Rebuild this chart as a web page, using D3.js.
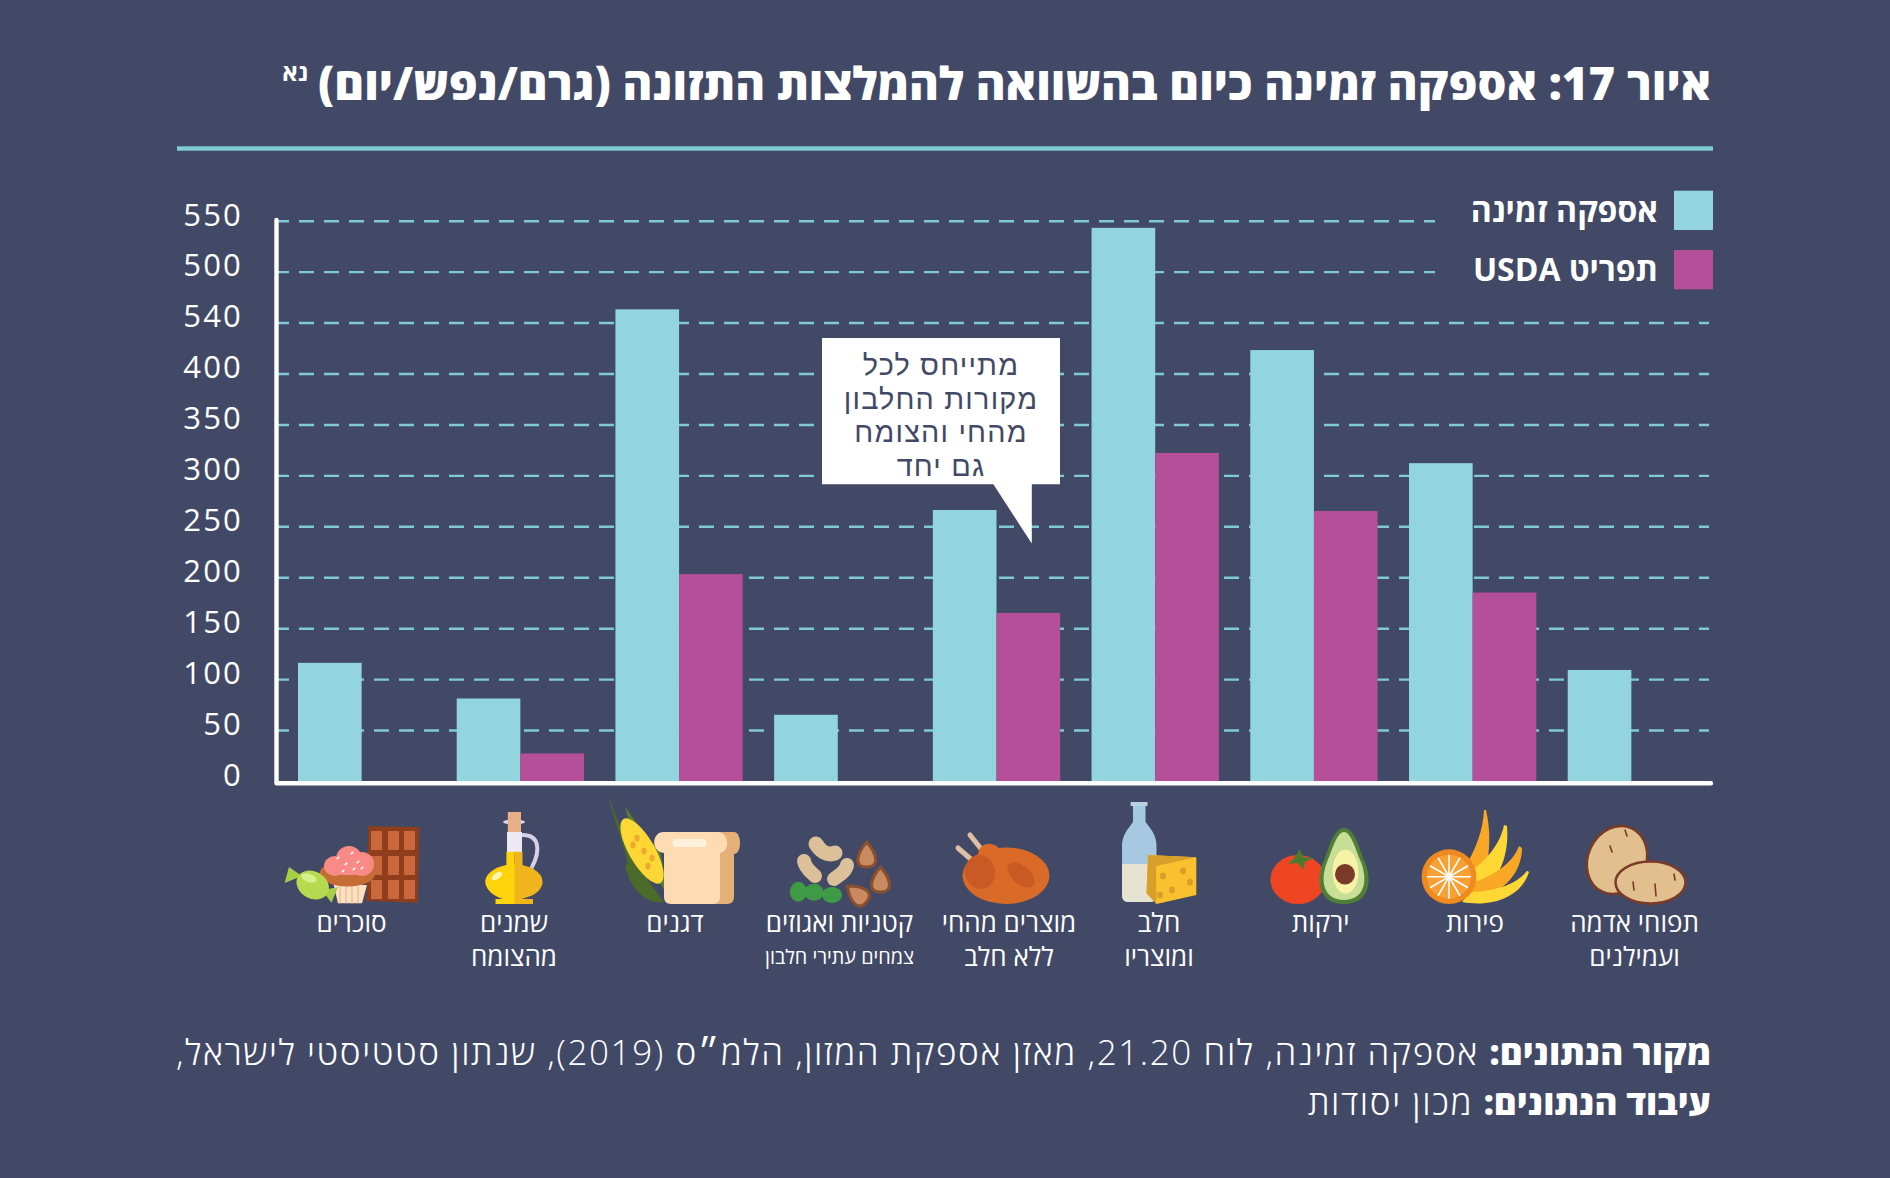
<!DOCTYPE html>
<html lang="he">
<head>
<meta charset="utf-8">
<script src="https://cdn.jsdelivr.net/npm/d3@7"></script>
<style>
  html, body { margin: 0; padding: 0; background: #424967; }
  svg { display: block; }
  text { font-family: "Open Sans", "DejaVu Sans", sans-serif; fill: #fff; }
  .he { direction: rtl; }
</style>
</head>
<body>
<svg id="chart" width="1890" height="1178"></svg>
<script>
// left to right, as they stand in the picture
var categories = ["סוכרים", "שמנים", "דגנים", "קטניות", "מוצרים", "חלב", "ירקות", "פירות", "תפוחי"];
var supplyValues = [116, 81, 463, 65, 266, 543, 423, 312, 109];
var usdaValues = [null, 27, 203, null, 165, 322, 265, 185, null];
var seriesNames = ["אספקה זמינה", "תפריט USDA"];
var yTicks = [0, 50, 100, 150, 200, 250, 300, 350, 400, 450, 500, 550];
// the 450 tick really is printed as 540 in the source
var yTickLabels = ["0", "50", "100", "150", "200", "250", "300", "350", "400", "540", "500", "550"];
var categoryLines = [
  ["סוכרים"],
  ["שמנים", "מהצומח"],
  ["דגנים"],
  ["קטניות ואגוזים"],
  ["מוצרים מהחי", "ללא חלב"],
  ["חלב", "ומוצריו"],
  ["ירקות"],
  ["פירות"],
  ["תפוחי אדמה", "ועמילנים"]
];
var calloutLines = ["מתייחס לכל", "מקורות החלבון", "מהחי והצומח", "גם יחד"];

var teal = "#92d5df", magenta = "#b64f9a", gridColor = "#7fcad6", bg = "#424967";
var labelCenters = [351.5, 514, 675, 839.5, 1009, 1159, 1320.6, 1475, 1634.6];

var svg = d3.select("#chart");
svg.append("rect").attr("width", 1890).attr("height", 1178).attr("fill", bg);

var x = d3.scaleBand().domain(categories).range([298, 1695]).paddingInner(0.198);
var x1 = d3.scaleBand().domain([0, 1]).range([0, x.bandwidth()]);
var y = d3.scaleLinear().domain([0, 550]).range([781, 220.7]);

// title
svg.append("text").attr("class", "he").attr("x", 1711).attr("y", 100)
  .attr("font-size", 45.4).attr("font-weight", 800)
  .text("איור 17: אספקה זמינה כיום בהשוואה להמלצות התזונה (גרם/נפש/יום)");
svg.append("text").attr("class", "he").attr("x", 308).attr("y", 81)
  .attr("font-size", 24).attr("font-weight", 700).text("נא");
svg.append("rect").attr("x", 177).attr("y", 146.3).attr("width", 1536).attr("height", 4.4).attr("fill", gridColor);

// gridlines
var grid = svg.append("g").attr("transform", "translate(277,0)")
  .call(d3.axisLeft(y).tickValues(yTicks.slice(1)).tickSize(-1432).tickFormat(""));
grid.select(".domain").remove();
grid.selectAll(".tick line")
  .attr("x2", function (d) { return d >= 500 ? 1435 - 277 : 1709 - 277; })
  .attr("stroke", gridColor).attr("stroke-width", 2.4)
  .attr("stroke-dasharray", "15 10").attr("stroke-dashoffset", 3);

// y labels
var yAxis = svg.append("g").attr("transform", "translate(243,-5.6)")
  .call(d3.axisLeft(y).tickValues(yTicks).tickSize(0).tickPadding(0)
    .tickFormat(function (d, i) { return yTickLabels[i]; }));
yAxis.select(".domain").remove();
yAxis.selectAll("text").attr("font-size", 31).attr("font-weight", 400)
  .attr("letter-spacing", 2.2)
  .style("font-family", "'Open Sans'").attr("fill", "#fff");

// bars
var groups = svg.selectAll(".cat").data(categories).enter().append("g")
  .attr("class", "cat")
  .attr("transform", function (d) { return "translate(" + x(d) + ",0)"; });
groups.append("rect")
  .attr("x", x1(0)).attr("width", x1.bandwidth())
  .attr("y", function (d, i) { return y(supplyValues[i]); })
  .attr("height", function (d, i) { return y(0) - y(supplyValues[i]); })
  .attr("fill", teal);
groups.filter(function (d, i) { return usdaValues[i] !== null; }).append("rect")
  .attr("x", x1(1)).attr("width", x1.bandwidth())
  .attr("y", function (d) { return y(usdaValues[categories.indexOf(d)]); })
  .attr("height", function (d) { return y(0) - y(usdaValues[categories.indexOf(d)]); })
  .attr("fill", magenta);

// axis lines
svg.append("path").attr("d", "M276.5,220V783.3H1711")
  .attr("fill", "none").attr("stroke", "#fff").attr("stroke-width", 4.4)
  .attr("stroke-linecap", "round").attr("stroke-linejoin", "round");

// legend
svg.selectAll(".leg").data(seriesNames).enter().append("rect")
  .attr("class", "leg").attr("x", 1674).attr("width", 39).attr("height", 39.3)
  .attr("y", function (d, i) { return 190.7 + i * 59.3; })
  .attr("fill", function (d, i) { return i ? magenta : teal; });
svg.selectAll(".legt").data(seriesNames).enter().append("text")
  .attr("class", "legt he").attr("x", 1658).attr("font-size", 32).attr("font-weight", 700)
  .attr("y", function (d, i) { return 221.5 + i * 59.3; })
  .text(function (d) { return d; });

// callout
svg.append("path").attr("d", "M822,338H1060V484.3H1031.8V543.6L993.4,484.3H822Z").attr("fill", "#fff");
svg.selectAll(".call").data(calloutLines).enter().append("text")
  .attr("class", "call he").attr("x", 941).attr("text-anchor", "middle")
  .attr("font-size", 28.8).attr("letter-spacing", 1.2)
  .attr("y", function (d, i) { return 375 + i * 33.6; })
  .style("font-family", "'Liberation Sans'")
  .style("fill", bg).text(function (d) { return d; });

// category labels
categoryLines.forEach(function (lines, i) {
  lines.forEach(function (t, j) {
    svg.append("text").attr("class", "he").attr("x", labelCenters[i]).attr("y", 932 + j * 33.7)
      .attr("text-anchor", "middle").attr("font-size", 26).text(t);
  });
});
svg.append("text").attr("class", "he").attr("x", labelCenters[3]).attr("y", 964)
  .attr("text-anchor", "middle").attr("font-size", 19.8).text("צמחים עתירי חלבון");

// source lines
var src = svg.append("text").attr("class", "he").attr("x", 1711).attr("y", 1064.5).attr("font-size", 35).attr("font-weight", 300);
src.append("tspan").attr("font-weight", 800).text("מקור הנתונים:");
src.append("tspan").attr("letter-spacing", 1.6).text(" אספקה זמינה, לוח 21.20, מאזן אספקת המזון, הלמ״ס (2019), שנתון סטטיסטי לישראל,");
var src2 = svg.append("text").attr("class", "he").attr("x", 1711).attr("y", 1114.5).attr("font-size", 35).attr("font-weight", 300);
src2.append("tspan").attr("font-weight", 800).text("עיבוד הנתונים:");
src2.append("tspan").attr("letter-spacing", 1.6).text(" מכון יסודות");

// icons, plain decoration under the axis
var icons = svg.append("g");
function ell(cx, cy, rx, ry, fill, rot) {
  var e = icons.append("ellipse").attr("cx", cx).attr("cy", cy).attr("rx", rx).attr("ry", ry).attr("fill", fill);
  if (rot) e.attr("transform", "rotate(" + rot + " " + cx + " " + cy + ")");
  return e;
}
function shape(d, fill, stroke, sw) {
  return icons.append("path").attr("d", d).attr("fill", fill || "none")
    .attr("stroke", stroke || "none").attr("stroke-width", sw || 0)
    .attr("stroke-linecap", "round");
}
function almond(cx, cy, rot) {
  shape("M0,-13C6,-6 9,0 9,5C9,10 5,12 0,12C-5,12 -9,10 -9,5C-9,0 -6,-6 0,-13Z", "#c98a62", "#8a4f2e", 3)
    .attr("transform", "translate(" + cx + "," + cy + ") rotate(" + rot + ")");
}

// chocolate
shape("M368.5,826L419.4,827.3L418,902.7L366.3,900.7Z", "#8f3d1a");
[371, 388, 404].forEach(function (cx) {
  [831, 856, 880].forEach(function (cy) {
    shape("M" + cx + "," + cy + "h11v19h-11Z", "#c9683c");
  });
});
// cupcake
shape("M333.7,885H367L362,903.3H338Z", "#fbe0c3");
[340, 346, 352, 358].forEach(function (sx) { shape("M" + sx + ",886V903", null, "#eeb58b", 1.2); });
ell(347.5, 873.3, 27.7, 13.3, "#c56d35");
ell(335, 866, 11, 10, "#f98a85");
ell(349, 859, 13, 13, "#f98a85");
ell(362, 864, 12, 12, "#f98a85");
ell(348, 868, 24, 7, "#f98a85");
[[338, 858], [346, 864], [352, 853], [358, 862], [362, 868], [343, 871], [354, 869]].forEach(function (p) { ell(p[0], p[1], 1.8, 0.9, "#fff", -40); });
// candy
shape("M289,867L284.6,883L302,876Z", "#a6cf45");
shape("M322,890L338,887.3L331.4,902.7Z", "#a6cf45");
ell(312.7, 885, 17, 13.5, "#b5d94f", 30);
ell(309, 878, 8, 4, "#d8ee8f", 20);

// oil bottle
shape("M523,835C539,835 541,850 532,867", null, "#d5d1e6", 4);
shape("M507,832H522V852H507Z", "#ece8f4");
ell(514, 822, 11, 2.6, "#dcd8ea");
shape("M507.8,812H521V832H507.8Z", "#e8b088");
shape("M506.4,851.7H514.5V899H495.7V904H533V899H522.5V851.7Z", "#f0b41c");
ell(514, 881.8, 28.6, 17.5, "#f0b41c");
shape("M514.5,851.7H506.4V865C492,870 485.4,875 485.4,881.8C485.4,890 495,897 503,899H495.7V904H514.5Z", "#fdd30c");
ell(497, 876, 6, 3, "#fff3b0", -35);

// corn
shape("M609,795C620,830 632,860 664,902C640,905 628,880 625,865C635,870 612,820 609,795Z", "#4b6b2a");
shape("M625,806C630,830 650,870 668,895L660,850C650,840 640,830 625,806Z", "#5a7d2f");
ell(642, 851, 13, 37, "#fdd835", -30);
[[637, 838], [644, 851], [648, 866], [633, 845], [652, 858]].forEach(function (p) { ell(p[0], p[1], 2.6, 3.6, "#f0a830"); });
// bread
shape("M690,832H734C742,832 742,854 734,854V897Q734,904 727,904H690Z", "#e5b077");
shape("M664,832H717C730,832 730,852 720,853V897Q720,904 713,904H671Q664,904 664,897V853C651,852 651,832 664,832Z", "#fedcb3");
shape("M674,839H705Q708,843 705,847H674Q671,843 674,839Z", "#fff0dc");

// beans and nuts
shape("M816,844C822,854 830,855 835,853", null, "#dcc09a", 15);
shape("M804,861C805,868 811,872 815,876", null, "#dcc09a", 14);
shape("M847,865C846,871 840,875 834,879", null, "#dcc09a", 14);
ell(798.4, 891.7, 8.5, 10, "#3f9a45");
ell(814, 892.3, 9.5, 8.5, "#3f9a45");
ell(832, 895, 10, 8, "#3f9a45");
almond(866.7, 855, 0);
almond(880.5, 880, 0);
almond(857.3, 894.3, -50);

// chicken
shape("M958,848L981,868", null, "#dfc0a0", 5);
shape("M970,835L990,860", null, "#dfc0a0", 5);
ell(1006, 875.7, 43.5, 28.3, "#d96a28");
ell(990, 855, 12, 11, "#d96a28", 30);
ell(980, 872, 15, 17, "#c95a25", -10);
ell(1021, 875, 16, 9, "#c95a25", 40);

// milk and cheese
shape("M1133,806H1145.5V822C1152,830 1156.5,836 1156.5,846V895Q1156.5,902 1150,902H1128Q1122,902 1122,895V846C1122,836 1127,830 1133,822Z", "#a6c8e0");
shape("M1122,864H1156.5V895Q1156.5,902 1150,902H1128Q1122,902 1122,895Z", "#e6e3d2");
shape("M1130.6,802H1147.5V806H1130.6Z", "#b8d2e2");
shape("M1148,855L1196.3,857.3V895L1156.5,904L1146.5,893.3Z", "#fbc02d");
shape("M1148,855L1196.3,857.3L1156,866L1156.5,904L1146.5,893.3Z", "#d8a02a");
[[1163, 876], [1183, 871], [1190, 882], [1160, 895], [1172, 890]].forEach(function (p) { ell(p[0], p[1], 3, 3.5, "#d8a02a"); });

// tomato and avocado
ell(1298, 879.5, 27.5, 24.5, "#ef4523");
shape("M1300,849L1303,857L1314,858L1305,862L1303,870L1298,863L1288,864L1294,858Z", "#4e7a30");
shape("M1344,828C1354,828 1358,845 1364,860C1373,880 1370,904 1344,904C1318,904 1315,880 1324,860C1330,845 1334,828 1344,828Z", "#4f7f37");
shape("M1344,832C1351,832 1355,848 1361,862C1368,880 1365,900 1344,900C1323,900 1320,880 1327,862C1333,848 1337,832 1344,832Z", "#c8dd95");
ell(1345.5, 871.7, 13, 22, "#f6f3a7");
ell(1345, 874.3, 10, 10.3, "#7a3a2a");

// bananas and orange
shape("M1464,868C1476,850 1483,830 1484,810H1486C1493,840 1490,880 1467,901Z", "#f9a825");
shape("M1468,873C1485,862 1500,845 1504,825L1507,826C1510,860 1495,890 1467,901Z", "#fdd835");
shape("M1470,884C1492,876 1512,865 1519,846L1522,848C1522,875 1500,897 1467,901Z", "#f9a825");
shape("M1470,892C1495,891 1516,885 1527,870.7L1529,872C1522,895 1495,908 1462,902Z", "#fdd835");
ell(1449, 876.7, 27.4, 27.4, "#ee8a1f");
ell(1449, 876.7, 22, 22, "#f9a034");
d3.range(0, 180, 30).forEach(function (a) {
  icons.append("line").attr("x1", 1427).attr("x2", 1471).attr("y1", 876.7).attr("y2", 876.7)
    .attr("stroke", "#fff").attr("stroke-width", 1.6)
    .attr("transform", "rotate(" + a + " 1449 876.7)");
});

// potatoes
ell(1617, 860, 29, 35, "#e2bf8f", 25).attr("stroke", "#7a3a28").attr("stroke-width", 2.5);
ell(1650.5, 882.5, 35, 21, "#e2bf8f").attr("stroke", "#7a3a28").attr("stroke-width", 2.5);
[[1633, 882, 1634, 890], [1655, 884, 1656, 896], [1674, 874, 1675, 880], [1610, 846, 1612, 852], [1625, 830, 1627, 836]].forEach(function (s) {
  shape("M" + s[0] + "," + s[1] + "L" + s[2] + "," + s[3], null, "#7a3a28", 1.6);
});
</script>
</body>
</html>
